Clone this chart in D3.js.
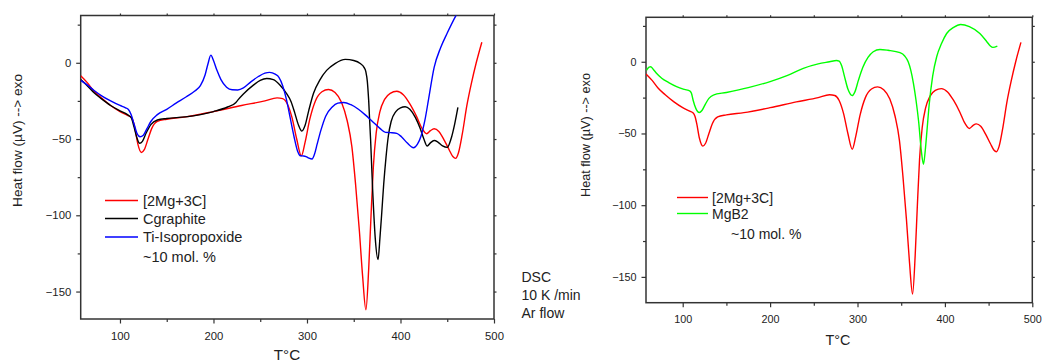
<!DOCTYPE html>
<html>
<head>
<meta charset="utf-8">
<script src="https://cdn.jsdelivr.net/npm/d3@7/dist/d3.min.js"></script>
<style>
  html, body { margin: 0; padding: 0; background: #fff; }
  svg { display: block; font-family: "Liberation Sans", Arial, sans-serif; }
  .tick text { fill: #222; }
</style>
</head>
<body>
<svg id="chart" width="1045" height="362"></svg>
<script>
// ---- data (T in °C, heat flow in µV) ----
const xTicks = [100, 200, 300, 400, 500];
const xMinorTicks = [150, 250, 350, 450];
const yTicks = [0, -50, -100, -150];
const yMinorTicks = [25, -25, -75, -125];

const mg3c = [[58,-8.5],[65,-13],[72,-18.5],[80,-23],[90,-28],[100,-32],[108,-34.5],[112,-35.8],[114,-38],[116,-43],[119,-53],[123,-58.8],[126,-57],[130,-50],[134,-43],[140,-38.5],[150,-37],[170,-35.5],[200,-32],[230,-28],[255,-25],[268,-23],[274,-23.5],[279,-27],[284,-36],[289,-50],[294,-61],[298,-52],[303,-37],[309,-25],[316,-19],[323,-17.5],[330,-19.5],[337,-26],[343,-38],[348,-55],[352,-80],[356,-110],[359.5,-140],[363,-162],[366,-135],[368.5,-100],[371,-68],[374,-46],[378,-32],[383,-24],[389,-20],[396,-18.7],[403,-21],[410,-27],[417,-35],[423,-43],[428,-46.5],[432,-44.5],[436,-43.3],[441,-45],[447,-51],[452,-57],[456,-61.5],[459,-62.7],[462,-59],[466,-47],[471,-28],[476,-13],[481,0],[487,13.5]];

const cgraphite = [[58,-11],[65,-15],[72,-19.5],[80,-23.5],[90,-28],[100,-31.5],[108,-34],[112,-36],[115,-42],[118,-49],[121,-52.8],[124,-51.5],[128,-46],[133,-40.5],[140,-37.5],[150,-36.5],[170,-35.5],[200,-32],[215,-29],[224,-26],[226,-24.5],[232,-20.5],[243,-14.5],[250,-11.5],[257,-10.3],[264,-11],[271,-14.5],[278,-20],[283,-25.5],[287,-33],[291,-41],[294.5,-44.8],[298,-41],[302,-31],[307,-20],[314,-11],[321,-5],[330,-0.5],[341,2.2],[350,1.5],[357,-0.5],[361,-3],[363,-6],[364.5,-12],[366,-25],[368,-50],[370,-80],[373,-115],[376,-129],[378,-115],[380,-98],[382,-80],[384.5,-62],[387,-48],[390,-38.5],[395,-32],[400,-29.5],[405,-28.8],[410,-30.5],[416,-36],[421,-43],[425,-50],[428.6,-54.6],[432,-52.5],[436,-51],[440,-52],[445,-54.5],[450,-55.5],[454,-50],[458,-40],[461.4,-29.3]];

const tiIso = [[58,-11.5],[65,-14.5],[72,-18],[80,-21.5],[90,-25],[100,-28],[106,-29.5],[109,-30.6],[112,-34],[115,-40],[118,-46],[121.5,-48.5],[125,-47.5],[129,-43],[133,-38.5],[140,-34],[150,-30.5],[160,-26.5],[171,-22.3],[180,-18.5],[186,-15],[191,-8],[194,-1],[197.2,5],[200,1.5],[203.6,-4.8],[208,-11],[214,-16],[220,-17.7],[226,-17.8],[232,-16.5],[240,-12.5],[248,-9],[255,-6.8],[260,-6.3],[266,-7.5],[270,-9.5],[274,-15],[278,-24],[282,-36],[286,-48],[290,-58],[293,-61],[296.4,-61.1],[299,-61.5],[302,-62.5],[305.4,-63.1],[308,-60],[311,-53],[315,-44],[320,-35],[327,-29],[333,-26.5],[339.3,-26],[347,-27.5],[355,-30.5],[362,-34],[370,-38.5],[378,-43],[384,-45.6],[389.4,-45.8],[396,-46.3],[401,-48.5],[407,-52.5],[414,-55.7],[418,-53.5],[422,-48],[426,-38],[430,-24],[436,-3],[443,10],[450,19.5],[459,30.6],[466,38]];

const mgb2 = [[58.5,-6],[61.5,-3.8],[63.4,-3.5],[66,-5],[70,-8],[76,-11.5],[84,-14.5],[93,-17.3],[102,-19.3],[108.4,-20.5],[110,-22],[112,-27],[115,-32.5],[119,-35.4],[122,-34],[126,-29.5],[130,-25.5],[135,-23.2],[150,-21.4],[175,-18],[200,-13.8],[220,-9.5],[238,-4.6],[255,-1.5],[268,0],[276,0.9],[279,0.5],[282,-3],[285,-10],[289,-19],[294,-23.6],[297,-21],[301,-13],[306,-4],[312,3],[318,7],[325.7,8.6],[335,8],[348.6,6.3],[354,4],[358,0],[361,-6],[364,-15],[367,-27],[370,-42],[373,-62],[375.5,-71.5],[377.5,-62],[379.5,-48],[382,-30],[386,-10],[390.6,3.5],[396,12.5],[402,19.7],[410,24],[418,26],[428,24.5],[440,19.7],[448,14],[452,11],[455,10],[460,10.9]];

const leftLegend = ["[2Mg+3C]", "Cgraphite", "Ti-Isopropoxide"];
const rightLegend = ["[2Mg+3C]", "MgB2"];
const noteText = "~10 mol. %";
const dscNote = ["DSC", "10 K /min", "Ar flow"];
const xLabel = "T°C";
const yLabel = "Heat flow (µV) --> exo";
const xDomain = [58, 500];
const yDomain = [-168, 31];

const svg = d3.select("#chart");

function panel(cfg) {
  const g = svg.append("g");
  const x = d3.scaleLinear().domain(xDomain).range([cfg.x0, cfg.x1]);
  const y = d3.scaleLinear().domain(yDomain).range([cfg.y1, cfg.y0]);
  const axisCol = "#333";

  const clipId = "clip" + cfg.id;
  svg.append("clipPath").attr("id", clipId).append("rect")
    .attr("x", cfg.x0).attr("y", cfg.y0).attr("width", cfg.x1 - cfg.x0).attr("height", cfg.y1 - cfg.y0);

  const style = (sel, fs) => {
    sel.select(".domain").remove();
    sel.selectAll(".tick line").attr("stroke", axisCol).attr("stroke-width", 1.2);
    sel.selectAll(".tick text").attr("font-size", fs);
  };

  g.append("g").attr("transform", `translate(0,${cfg.y1})`)
    .call(d3.axisBottom(x).tickValues(xTicks).tickSize(4.5).tickPadding(cfg.xpad).tickFormat(d3.format("d")))
    .call(s => style(s, cfg.tickFs));
  g.append("g").attr("transform", `translate(0,${cfg.y1})`)
    .call(d3.axisBottom(x).tickValues(xMinorTicks).tickSize(3).tickFormat(""))
    .call(s => style(s, cfg.tickFs));
  g.append("g").attr("transform", `translate(0,${cfg.y0})`)
    .call(d3.axisTop(x).tickValues(xTicks.concat(xMinorTicks)).tickSize(2).tickFormat(""))
    .call(s => style(s, cfg.tickFs));
  g.append("g").attr("transform", `translate(${cfg.x0},0)`)
    .call(d3.axisLeft(y).tickValues(yTicks).tickSize(4.5).tickPadding(cfg.ypad).tickFormat(d3.format("d")))
    .call(s => style(s, cfg.tickFs));
  g.append("g").attr("transform", `translate(${cfg.x0},0)`)
    .call(d3.axisLeft(y).tickValues(yMinorTicks).tickSize(3).tickFormat(""))
    .call(s => style(s, cfg.tickFs));
  g.append("g").attr("transform", `translate(${cfg.x1},0)`)
    .call(d3.axisRight(y).tickValues(yTicks.concat(yMinorTicks)).tickSize(2.5).tickFormat(""))
    .call(s => style(s, cfg.tickFs));

  g.append("rect").attr("x", cfg.x0).attr("y", cfg.y0)
    .attr("width", cfg.x1 - cfg.x0).attr("height", cfg.y1 - cfg.y0)
    .attr("fill", "none").attr("stroke", axisCol).attr("stroke-width", 1.5);

  const line = d3.line().x(d => x(d[0])).y(d => y(d[1])).curve(d3.curveMonotoneX);
  const lines = g.append("g").attr("clip-path", `url(#${clipId})`);
  cfg.series.forEach(s => {
    lines.append("path").datum(s.data).attr("d", line)
      .attr("fill", "none").attr("stroke", s.color).attr("stroke-width", 1.4)
      .attr("stroke-linejoin", "round");
  });

  cfg.series.forEach((s, i) => {
    const ly = cfg.leg.y[i];
    g.append("line").attr("x1", cfg.leg.lx0).attr("x2", cfg.leg.lx1)
      .attr("y1", ly).attr("y2", ly).attr("stroke", s.color).attr("stroke-width", 1.4);
    g.append("text").attr("x", cfg.leg.tx).attr("y", ly + cfg.legFs * 0.36)
      .attr("font-size", cfg.legFs).attr("fill", "#222").text(s.name);
  });
  g.append("text").attr("x", cfg.leg.nx).attr("y", cfg.leg.ny + cfg.legFs * 0.36)
    .attr("font-size", cfg.legFs).attr("fill", "#222").text(noteText);

  g.append("text").attr("x", cfg.xlab.x).attr("y", cfg.xlab.y).attr("text-anchor", "middle")
    .attr("font-size", cfg.labFs).attr("fill", "#222").text(xLabel);
  g.append("text").attr("transform", `translate(${cfg.ylab.x},${cfg.ylab.y}) rotate(-90)`)
    .attr("text-anchor", "middle").attr("font-size", cfg.yLabFs).attr("fill", "#222").text(yLabel);
}

panel({
  id: "L", x0: 80.7, x1: 494, y0: 15.5, y1: 319, xpad: 8, ypad: 5, tickFs: 11.3, legFs: 14.5, labFs: 15.2, yLabFs: 13.6,
  series: [
    { name: leftLegend[0], color: "#ff0000", data: mg3c },
    { name: leftLegend[1], color: "#000000", data: cgraphite },
    { name: leftLegend[2], color: "#0000ff", data: tiIso }
  ],
  leg: { lx0: 105, lx1: 138, tx: 143, y: [200.5, 218.5, 237], nx: 143, ny: 256.5 },
  xlab: { x: 287, y: 360 }, ylab: { x: 22, y: 140.5 }
});

panel({
  id: "R", x0: 646, x1: 1032.3, y0: 17.3, y1: 302.7, xpad: 8, ypad: 5, tickFs: 10.8, legFs: 14, labFs: 14.4, yLabFs: 12.7,
  series: [
    { name: rightLegend[0], color: "#ff0000", data: mg3c },
    { name: rightLegend[1], color: "#00ff00", data: mgb2 }
  ],
  leg: { lx0: 677, lx1: 708, tx: 712, y: [197.5, 213.5], nx: 731, ny: 234 },
  xlab: { x: 838, y: 345 }, ylab: { x: 590, y: 135 }
});

svg.append("g").selectAll("text").data(dscNote).join("text")
  .attr("x", 521.5).attr("y", (d, i) => [282, 300, 317.5][i])
  .attr("font-size", 14).attr("fill", "#222").text(d => d);
</script>
</body>
</html>
